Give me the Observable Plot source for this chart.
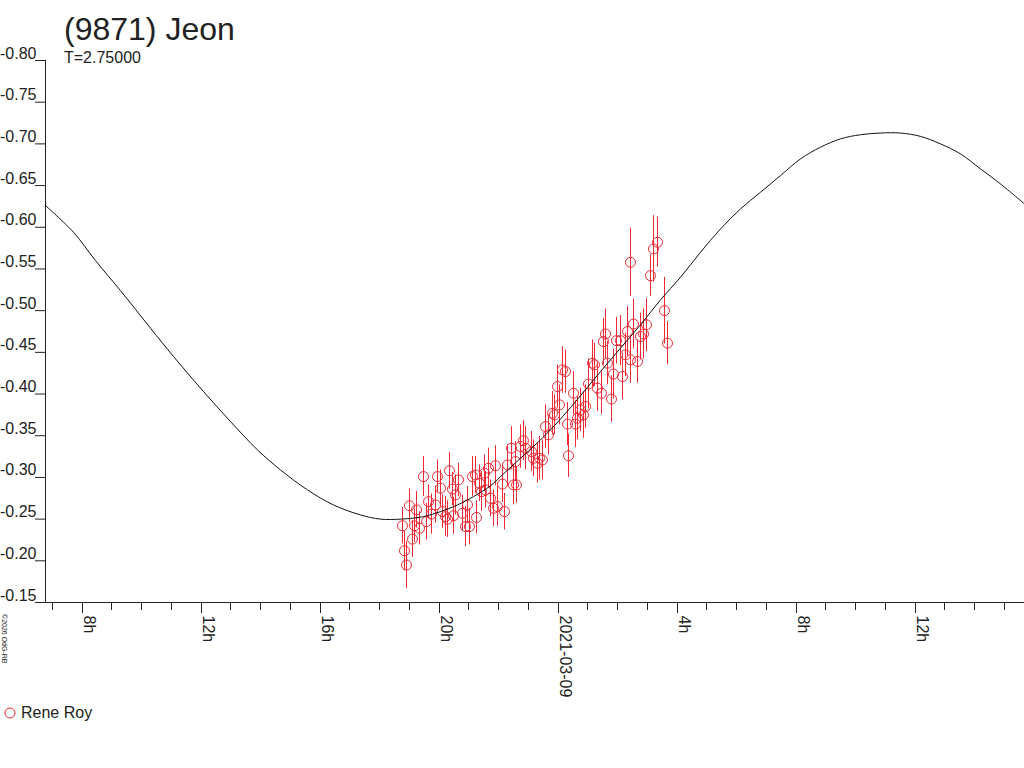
<!DOCTYPE html>
<html>
<head>
<meta charset="utf-8">
<script src="https://cdn.jsdelivr.net/npm/d3@7"></script>
<script src="https://cdn.jsdelivr.net/npm/@observablehq/plot@0.6"></script>
<style>
  html, body { margin: 0; padding: 0; background: #fff; }
  #wrap { position: relative; width: 1024px; height: 768px; overflow: hidden; font-family: "Liberation Sans", Arial, sans-serif; color: #222; }
  #chart { position: absolute; left: 0; top: 0; }
  .title { position: absolute; left: 64px; top: 13px; font-size: 32px; line-height: 1; white-space: nowrap; }
  .subtitle { position: absolute; left: 64px; top: 50px; font-size: 16px; line-height: 1; white-space: nowrap; }
  .legend { position: absolute; left: 4px; top: 705px; font-size: 16px; line-height: 1; white-space: nowrap; display: flex; align-items: center; }
  .legend svg { margin-right: 5px; }
  .copy { position: absolute; left: 8px; top: 614px; font-size: 7px; line-height: 7px; transform-origin: 0 0; transform: rotate(90deg); white-space: nowrap; }
</style>
</head>
<body>
<div id="wrap">
  <div id="chart"></div>
  <div class="title">(9871) Jeon</div>
  <div class="subtitle">T=2.75000</div>
  <div class="legend"><svg width="12" height="12"><circle cx="6" cy="6" r="5" fill="none" stroke="#ee2a36"></circle></svg><span>Rene Roy</span></div>
  <div class="copy">©2026 OdG-RB</div>
</div>
<script>
const RED = "#ee2a36";

// Observations: hours since 2021-03-08 00:00 UT, relative magnitude, error
const obsHours = [18.78,18.84,18.90,19.00,19.11,19.17,19.23,19.35,19.48,19.56,
  19.65,19.73,19.88,19.93,20.04,20.10,20.21,20.29,20.35,20.44,
  20.47,20.55,20.66,20.77,20.88,20.96,21.02,21.13,21.22,21.25,
  21.36,21.41,21.52,21.56,21.67,21.72,21.82,21.89,21.95,22.12,
  22.21,22.29,22.43,22.51,22.56,22.59,22.73,22.84,22.90,23.09,
  23.18,23.29,23.38,23.46,23.57,23.68,23.80,23.88,23.97,24.05,
  24.13,24.25,24.30,24.36,24.52,24.58,24.64,24.75,24.86,24.92,
  25.03,25.14,25.22,25.33,25.45,25.53,25.59,25.65,25.78,25.85,
  25.96,26.09,26.15,26.26,26.32,26.43,26.43,26.54,26.66,26.77,
  26.86,26.97,27.10,27.21,27.35,27.57,27.68];
const obsMag = [-0.242,-0.212,-0.195,-0.266,-0.226,-0.242,-0.261,-0.239,-0.301,-0.247,
  -0.271,-0.256,-0.267,-0.301,-0.287,-0.259,-0.253,-0.250,-0.308,-0.286,
  -0.254,-0.279,-0.297,-0.257,-0.241,-0.267,-0.241,-0.301,-0.303,-0.252,
  -0.293,-0.283,-0.305,-0.285,-0.311,-0.275,-0.263,-0.314,-0.265,-0.292,
  -0.259,-0.315,-0.335,-0.291,-0.319,-0.291,-0.337,-0.344,-0.335,-0.331,
  -0.323,-0.317,-0.323,-0.321,-0.361,-0.351,-0.377,-0.375,-0.409,-0.387,
  -0.429,-0.427,-0.364,-0.326,-0.401,-0.364,-0.371,-0.381,-0.375,-0.385,
  -0.412,-0.437,-0.435,-0.407,-0.401,-0.463,-0.472,-0.437,-0.394,-0.424,
  -0.464,-0.464,-0.421,-0.447,-0.475,-0.441,-0.558,-0.484,-0.439,-0.469,
  -0.472,-0.483,-0.542,-0.574,-0.582,-0.500,-0.461];
const obsErr = [0.022,0.024,0.028,0.020,0.022,0.020,0.022,0.020,0.024,0.022,
  0.020,0.024,0.022,0.020,0.022,0.020,0.024,0.022,0.022,0.020,
  0.022,0.024,0.020,0.022,0.024,0.022,0.022,0.024,0.022,0.020,
  0.022,0.024,0.022,0.022,0.024,0.022,0.022,0.024,0.024,0.022,
  0.022,0.024,0.026,0.024,0.024,0.022,0.026,0.024,0.026,0.024,
  0.022,0.024,0.026,0.024,0.026,0.024,0.026,0.024,0.026,0.024,
  0.028,0.026,0.026,0.026,0.026,0.028,0.026,0.026,0.028,0.026,
  0.030,0.028,0.026,0.028,0.026,0.028,0.030,0.026,0.028,0.030,
  0.028,0.030,0.028,0.026,0.030,0.028,0.041,0.030,0.026,0.028,
  0.030,0.032,0.025,0.040,0.030,0.040,0.026];

// Fourier fit curve
const fitHours = [6.77,7.72,8.45,9.29,10.30,11.08,12.09,12.98,13.88,14.67,
  15.56,16.46,17.35,18.03,18.70,19.48,20.04,20.61,21.16,21.72,
  22.06,22.73,23.41,24.08,24.75,25.42,26.09,26.77,27.44,28.11,
  28.78,29.46,30.13,30.80,31.47,32.14,32.82,33.49,34.16,34.83,
  35.51,36.18,36.85,37.52,38.19,38.87,39.67];
const fitMag = [-0.626,-0.594,-0.560,-0.524,-0.479,-0.445,-0.403,-0.367,-0.333,-0.309,
  -0.285,-0.267,-0.255,-0.250,-0.250,-0.253,-0.259,-0.267,-0.277,-0.290,
  -0.301,-0.323,-0.345,-0.370,-0.398,-0.427,-0.455,-0.483,-0.513,-0.540,
  -0.570,-0.598,-0.622,-0.642,-0.662,-0.682,-0.696,-0.706,-0.711,-0.713,
  -0.713,-0.709,-0.700,-0.688,-0.670,-0.652,-0.628];

const yTicks = [-0.80,-0.75,-0.70,-0.65,-0.60,-0.55,-0.50,-0.45,-0.40,-0.35,-0.30,-0.25,-0.20,-0.15];
const majorHours = [8,12,16,20,24,28,32,36];
const majorLabels = ["8h","12h","16h","20h","2021-03-09","4h","8h","12h"];
const minorHours = [7,8,9,10,11,12,13,14,15,16,17,18,19,20,21,22,23,24,25,26,27,28,29,30,31,32,33,34,35,36,37,38,39];
const domainHours = [6.766, 39.674];

const t0 = Date.UTC(2021, 2, 8);
const toDate = h => new Date(t0 + h * 3600000);
const obs = obsHours.map((h, i) => ({t: toDate(h), mag: obsMag[i], err: obsErr[i]}));
const fit = fitHours.map((h, i) => ({t: toDate(h), mag: fitMag[i]}));
const majors = majorHours.map((h, i) => ({t: toDate(h), label: majorLabels[i]}));
const xDomain = domainHours.map(toDate);

const chart = Plot.plot({
  width: 1024,
  height: 768,
  marginTop: 60,
  marginBottom: 166,
  marginLeft: 45,
  marginRight: 0,
  style: {fontFamily: "'Liberation Sans', Arial, sans-serif", fontSize: "16px", color: "#222", background: "white"},
  x: {type: "utc", domain: xDomain, label: null, round: true},
  y: {domain: [-0.15, -0.80], label: null},
  marks: [
    Plot.axisY({ticks: yTicks, tickSize: 10, tickFormat: () => "", label: null}),
    Plot.text(yTicks, {y: d => d, frameAnchor: "left", textAnchor: "end", lineAnchor: "bottom", dx: -9, dy: -2, text: d => d.toFixed(2), fontSize: 16, fill: "#222"}),
    Plot.axisX({ticks: minorHours.map(toDate), tickSize: 8, tickFormat: () => "", label: null}),
    Plot.axisX({ticks: majorHours.map(toDate), tickSize: 11, tickFormat: () => "", label: null}),
    Plot.text(majors, {x: "t", text: "label", frameAnchor: "bottom", rotate: 90, textAnchor: "start", lineAnchor: "middle", dx: 7, dy: 13, fontSize: 16, fill: "#222"}),
    Plot.ruleX([xDomain[0]], {stroke: "#222"}),
    Plot.ruleY([-0.15], {stroke: "#222"}),
    Plot.ruleX(obs, {x: "t", y1: d => d.mag - d.err, y2: d => d.mag + d.err, stroke: RED}),
    Plot.dot(obs, {x: "t", y: "mag", r: 5, stroke: RED, fill: "none", strokeWidth: 1}),
    Plot.line(fit, {x: "t", y: "mag", stroke: "#111", strokeWidth: 1, curve: "catmull-rom"})
  ]
});
document.getElementById("chart").appendChild(chart);
</script>
</body>
</html>
